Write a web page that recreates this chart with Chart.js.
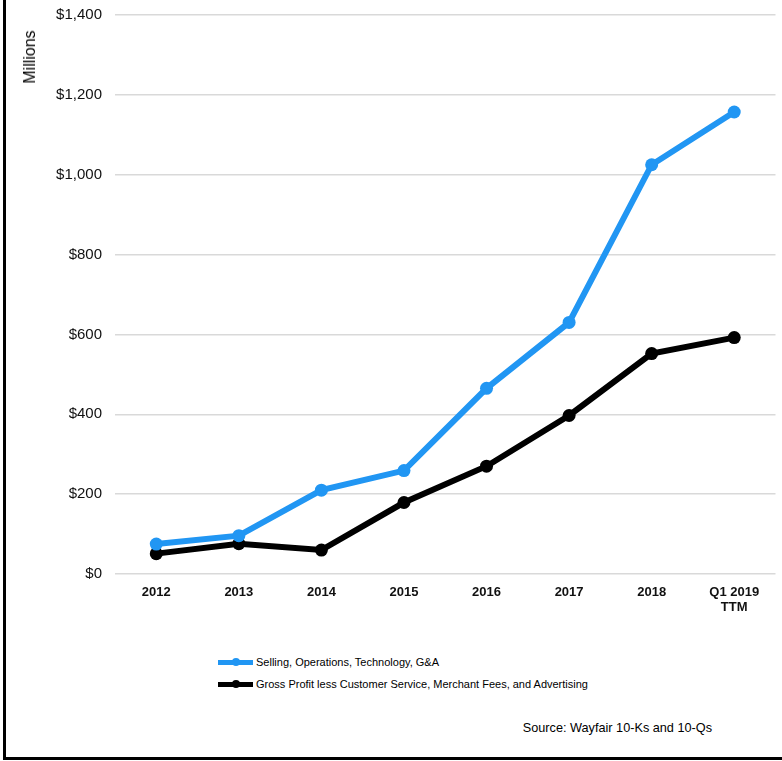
<!DOCTYPE html>
<html>
<head>
<meta charset="utf-8">
<script src="https://cdn.jsdelivr.net/npm/chart.js@4"></script>
<style>
    body { margin: 0; background: #fff; font-family: "Liberation Sans", Arial, sans-serif; }
    #wrap { position: relative; width: 782px; height: 761px; overflow: hidden; }
    #marco { position: absolute; left: 3px; top: 0; right: 0; bottom: 1px; border-left: 3px solid #000; border-bottom: 3px solid #000; }
    #caja { position: absolute; left: 0; top: -7px; width: 782px; height: 647px; }
    #millones { position: absolute; left: 30px; top: 57px; transform: translate(-50%, -50%) rotate(-90deg); font-size: 16px; color: #000; white-space: nowrap; }
    .leyenda { position: absolute; left: 218px; font-size: 11px; color: #000; display: flex; align-items: center; white-space: nowrap; }
    .muestra { position: relative; width: 35px; height: 5px; margin-right: 3px; }
    .muestra i { position: absolute; left: 14px; top: -1.5px; width: 8px; height: 8px; border-radius: 50%; }
    #fuente { position: absolute; right: 70px; top: 721px; font-size: 12.7px; color: #000; }
</style>
</head>
<body>
<div id="wrap">
    <div id="marco"></div>
    <div id="caja"><canvas id="grafico"></canvas></div>
    <div id="millones">Millions</div>
    <div class="leyenda" style="top:656px"><span class="muestra" id="m1"><i></i></span><span id="l1"></span></div>
    <div class="leyenda" style="top:678px"><span class="muestra" id="m2"><i></i></span><span id="l2"></span></div>
    <div id="fuente">Source: Wayfair 10-Ks and 10-Qs</div>
</div>
<script>
// ==========================================
// Wayfair: gastos vs beneficio
// ==========================================

const anios = ["2012", "2013", "2014", "2015", "2016", "2017", "2018", ["Q1 2019", "TTM"]];
const gastos = [75, 96, 210, 259, 465, 630, 1025, 1157];
const beneficio = [51, 76, 60, 179, 270, 397, 552, 592];
const nombreGastos = "Selling, Operations, Technology, G&A";
const nombreBeneficio = "Gross Profit less Customer Service, Merchant Fees, and Advertising";
const AZUL = "#2196f3";
const NEGRO = "#000000";

function pintarLeyenda(id, color, texto) {
    const muestra = document.getElementById("m" + id);
    muestra.style.background = color;
    muestra.querySelector("i").style.background = color;
    document.getElementById("l" + id).textContent = texto;
}

pintarLeyenda(1, AZUL, nombreGastos);
pintarLeyenda(2, NEGRO, nombreBeneficio);

function serie(etiqueta, datos, color) {
    return {
        label: etiqueta,
        data: datos,
        borderColor: color,
        backgroundColor: color,
        borderWidth: 6,
        pointRadius: 6.5,
        pointBorderWidth: 0,
        tension: 0
    };
}

new Chart(document.getElementById("grafico"), {
    type: "line",
    data: {
        labels: anios,
        datasets: [
            serie(nombreGastos, gastos, AZUL),
            serie(nombreBeneficio, beneficio, NEGRO)
        ]
    },
    options: {
        responsive: true,
        maintainAspectRatio: false,
        animation: false,
        layout: { padding: { top: 7, left: 0, right: 0, bottom: 0 } },
        plugins: {
            legend: { display: false },
            tooltip: { enabled: false }
        },
        scales: {
            x: {
                offset: true,
                grid: { display: false },
                border: { display: false },
                ticks: {
                    color: "#111",
                    padding: 3,
                    maxRotation: 0,
                    font: { family: "Liberation Sans", size: 13, weight: "bold", lineHeight: 1.15 }
                },
                afterFit: scale => { scale.height = 66; }
            },
            y: {
                min: 0,
                max: 1400,
                grid: { color: "#d9d9d9", lineWidth: 1.5, drawTicks: false },
                border: { display: false },
                ticks: {
                    stepSize: 200,
                    color: "#111",
                    padding: 13,
                    font: { family: "Liberation Sans", size: 15 },
                    callback: v => "$" + v.toLocaleString("en-US")
                },
                afterFit: scale => { scale.width = 115; }
            }
        }
    }
});
</script>
</body>
</html>
